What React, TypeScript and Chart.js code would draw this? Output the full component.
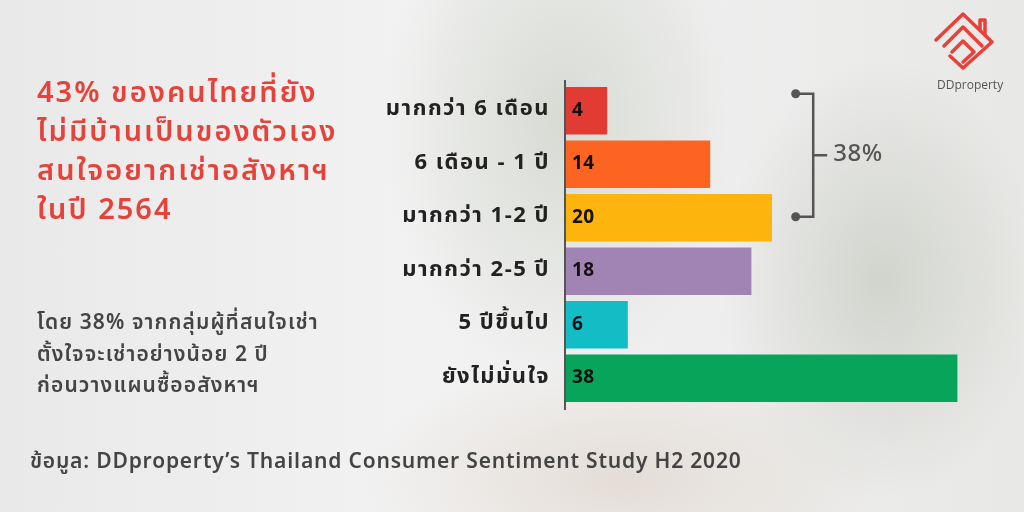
import React, { useEffect, useRef } from "react";
import { Chart, registerables } from "chart.js";

Chart.register(...registerables);

const categories = ["มากกว่า 6 เดือน", "6 เดือน - 1 ปี", "มากกว่า 1-2 ปี", "มากกว่า 2-5 ปี", "5 ปีขึ้นไป", "ยังไม่มั่นใจ"];
const values = [4, 14, 20, 18, 6, 38];
const barColors = ["#e23b33", "#fd6421", "#fdb40c", "#a184b3", "#13bdc6", "#08a45a"];
const bracketLabel = "38%";
const titleLines = ["43% ของคนไทยที่ยัง", "ไม่มีบ้านเป็นของตัวเอง", "สนใจอยากเช่าอสังหาฯ", "ในปี 2564"];
const subLines = ["โดย 38% จากกลุ่มผู้ที่สนใจเช่า", "ตั้งใจจะเช่าอย่างน้อย 2 ปี", "ก่อนวางแผนซื้ออสังหาฯ"];
const sourceText = "ข้อมูล: DDproperty’s Thailand Consumer Sentiment Study H2 2020";

const FONT = "'Noto Sans Thai', 'Noto Sans', 'Open Sans', sans-serif";

const spacingPlugin = {
  id: "spacing",
  beforeDraw(chart: any) {
    chart.ctx.letterSpacing = "1.5px";
  },
  afterDraw(chart: any) {
    chart.ctx.letterSpacing = "0px";
  },
};

const overlayPlugin = {
  id: "overlay",
  afterDatasetsDraw(chart: any) {
    const ctx = chart.ctx;
    const area = chart.chartArea;
    const xs = chart.scales.x;
    const ys = chart.scales.y;
    ctx.save();
    ctx.letterSpacing = "0.5px";
    // axis line
    ctx.strokeStyle = "#555";
    ctx.lineWidth = 2;
    ctx.beginPath();
    ctx.moveTo(area.left - 1, area.top - 4);
    ctx.lineTo(area.left - 1, area.bottom + 5);
    ctx.stroke();
    // value labels
    const meta = chart.getDatasetMeta(0);
    ctx.fillStyle = "#111";
    ctx.font = `bold 19px ${FONT}`;
    ctx.textBaseline = "middle";
    ctx.textAlign = "left";
    meta.data.forEach((bar: any, i: number) => {
      ctx.fillText(String(values[i]), area.left + 6, bar.y + 1);
    });
    // bracket
    const top = ys.getPixelForValue(0) - 17;
    const bot = ys.getPixelForValue(2) - 1;
    const lx = xs.getPixelForValue(24);
    const dx = xs.getPixelForValue(22.3);
    const mid = (top + bot) / 2;
    ctx.strokeStyle = "#555";
    ctx.fillStyle = "#555";
    ctx.lineWidth = 2.5;
    ctx.beginPath();
    ctx.moveTo(dx, top);
    ctx.lineTo(lx, top);
    ctx.lineTo(lx, bot);
    ctx.lineTo(dx, bot);
    ctx.moveTo(lx, mid);
    ctx.lineTo(lx + 14, mid);
    ctx.stroke();
    [top, bot].forEach((yy) => {
      ctx.beginPath();
      ctx.arc(dx, yy, 4.5, 0, Math.PI * 2);
      ctx.fill();
    });
    ctx.font = `500 24px ${FONT}`;
    ctx.fillStyle = "#555";
    ctx.fillText(bracketLabel, lx + 20, mid + 1);
    ctx.restore();
  },
};

export default function App() {
  const ref = useRef<HTMLCanvasElement>(null);
  useEffect(() => {
    const chart = new Chart(ref.current!, {
      type: "bar",
      data: {
        labels: categories,
        datasets: [
          {
            data: values,
            backgroundColor: barColors,
            borderWidth: 0,
            categoryPercentage: 1,
            barPercentage: 0.89,
          },
        ],
      },
      options: {
        indexAxis: "y",
        animation: false,
        responsive: false,
        maintainAspectRatio: false,
        layout: { padding: { top: 84, bottom: 107, right: 46, left: 0 } },
        plugins: { legend: { display: false }, tooltip: { enabled: false } },
        scales: {
          x: { display: false, min: 0, max: 40 },
          y: {
            afterFit: (s: any) => {
              s.width = 566;
            },
            grid: { display: false, drawTicks: false },
            border: { display: false },
            ticks: {
              padding: 16,
              color: "#222",
              font: { family: FONT, size: 22, weight: "bold" },
            },
          },
        },
      },
      plugins: [spacingPlugin, overlayPlugin],
    });
    return () => chart.destroy();
  }, []);

  return (
    <div
      style={{
        position: "fixed",
        left: 0,
        top: 0,
        width: 1024,
        height: 512,
        overflow: "hidden",
        fontFamily: FONT,
        background:
          "radial-gradient(ellipse 180px 260px at 560px 120px, rgba(170,180,160,0.35), rgba(0,0,0,0)), radial-gradient(ellipse 160px 220px at 880px 280px, rgba(150,160,140,0.3), rgba(0,0,0,0)), radial-gradient(ellipse 260px 120px at 620px 480px, rgba(215,200,185,0.45), rgba(0,0,0,0)), linear-gradient(90deg, #e9e9e9 0%, #f2f2f2 40%, #eeeeee 70%, #e8e8e6 100%)",
      }}
    >
      <canvas ref={ref} width={1024} height={512} style={{ position: "absolute", left: 0, top: 0 }} />
      <div style={{ position: "absolute", left: 37, top: 74, color: "#e6423a", fontWeight: 600, fontSize: 29, letterSpacing: "2px", lineHeight: "39px" }}>
        {titleLines.map((l, i) => (
          <div key={i}>{l}</div>
        ))}
      </div>
      <div style={{ position: "absolute", left: 37, top: 307, color: "#444", fontWeight: 600, fontSize: 21, letterSpacing: "1.1px", lineHeight: "31.5px" }}>
        {subLines.map((l, i) => (
          <div key={i}>{l}</div>
        ))}
      </div>
      <div style={{ position: "absolute", left: 30, top: 447, color: "#444", fontWeight: 600, fontSize: 21, letterSpacing: "0.8px", lineHeight: "30px" }}>
        {sourceText}
      </div>
      <svg style={{ position: "absolute", left: 930, top: 10 }} width={70} height={60} viewBox="0 0 70 60">
        <g fill="none" stroke="#e8413a" strokeWidth={3.5} strokeLinejoin="round" strokeLinecap="round">
          <path d="M6 30 L33 4 L62 32 L33 58 L20 46" />
          <path d="M14 36 L33 17 L52 36" />
          <path d="M22 42 L33 31 L44 42 L33 52" />
          <path d="M50 20 L50 10 L55 10 L55 25" />
        </g>
      </svg>
      <div style={{ position: "absolute", left: 937, top: 76, color: "#555", fontSize: 12, fontWeight: 500, fontFamily: "'Open Sans', sans-serif" }}>
        DDproperty
      </div>
    </div>
  );
}
